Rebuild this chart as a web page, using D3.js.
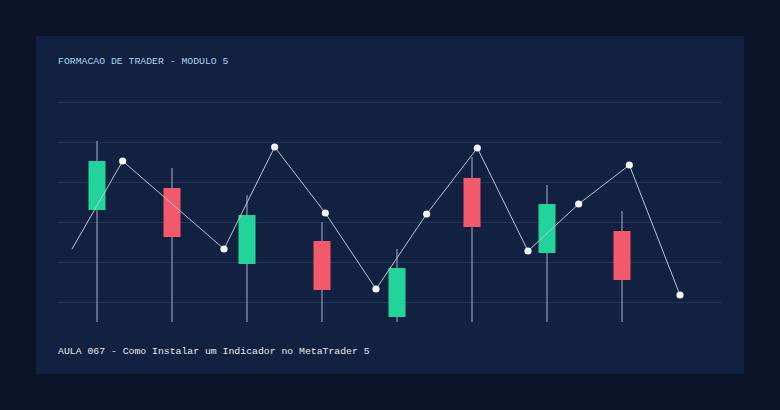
<!DOCTYPE html>
<html><head><meta charset="utf-8">
<script src="https://cdn.jsdelivr.net/npm/d3@7"></script>
<style>body{margin:0;background:#0b1429}svg{display:block}</style>
</head><body>
<svg width="780" height="410"></svg>
<script>
// candle data (arbitrary price units)
var candleOpen = [112, 134, 58, 81, 5, 144, 69, 91]
var candleClose = [161, 85, 107, 32, 54, 95, 118, 42]
var candleHigh = [181, 154, 127, 100, 73, 165, 137, 111]
var candleLow = [0, 0, 0, 0, 0, 0, 0, 0]
var lineX = [0, 2, 6, 8, 10, 12, 14, 16, 18, 20, 22, 24]
var lineY = [73, 161, 73, 175, 109, 33, 108, 174, 71, 118, 157, 27]
var gridTicks = [20, 60, 100, 140, 180, 220]

var svg = d3.select('svg')
svg.append('rect').attr('x', 36).attr('y', 36).attr('width', 708).attr('height', 338).attr('fill', '#12213f')

var y = d3.scaleLinear().domain([0, 220]).range([322, 102])
var xc = d3.scaleLinear().domain([0, 7]).range([97, 622])
var xl = d3.scaleLinear().domain([0, 24]).range([72, 680])

svg.append('g').selectAll('line').data(gridTicks).enter().append('line')
  .attr('x1', 58).attr('x2', 722)
  .attr('y1', function (d) { return Math.round(y(d)) + 0.5 }).attr('y2', function (d) { return Math.round(y(d)) + 0.5 })
  .attr('stroke', '#22335a').attr('stroke-width', 1)

var c = svg.append('g').selectAll('g').data(candleOpen).enter().append('g')
c.append('line')
  .attr('x1', function (d, i) { return xc(i) }).attr('x2', function (d, i) { return xc(i) })
  .attr('y1', function (d, i) { return y(candleHigh[i]) }).attr('y2', function (d, i) { return y(candleLow[i]) })
  .attr('stroke', '#8d9ab5').attr('stroke-width', 1.2)
c.append('rect')
  .attr('x', function (d, i) { return xc(i) - 8.5 }).attr('width', 17)
  .attr('y', function (d, i) { return y(Math.max(d, candleClose[i])) })
  .attr('height', function (d, i) { return Math.abs(y(d) - y(candleClose[i])) })
  .attr('fill', function (d, i) { return candleClose[i] > d ? '#22d39a' : '#f25a6b' })

var pts = lineX.map(function (d, i) { return [xl(d), y(lineY[i])] })
svg.append('path').attr('d', d3.line()(pts)).attr('fill', 'none')
  .attr('stroke', '#b9c4d8').attr('stroke-width', 1)
svg.append('g').selectAll('circle').data(pts.slice(1)).enter().append('circle')
  .attr('cx', function (d) { return d[0] }).attr('cy', function (d) { return d[1] })
  .attr('r', 3.6).attr('fill', '#f2f5fa')

svg.append('text').attr('x', 58).attr('y', 64).attr('fill', '#a6d8ea')
  .attr('font-family', 'Liberation Mono').attr('font-size', 9.8)
  .text('FORMACAO DE TRADER - MODULO 5')
svg.append('text').attr('x', 58).attr('y', 354).attr('fill', '#e6ebf3')
  .attr('font-family', 'Liberation Mono').attr('font-size', 9.8)
  .text('AULA 067 - Como Instalar um Indicador no MetaTrader 5')
</script>
</body></html>
